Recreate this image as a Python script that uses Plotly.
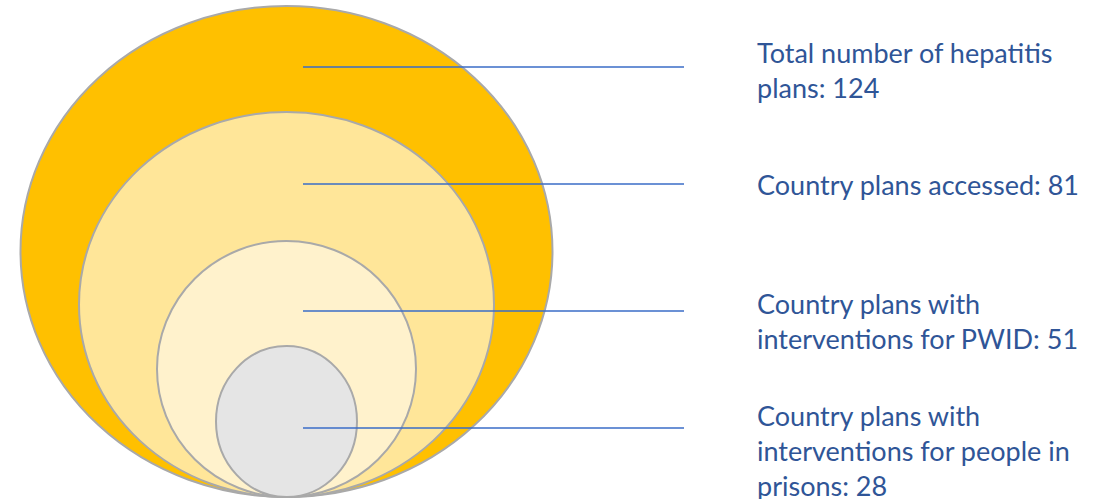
import plotly.graph_objects as go

# Nested plan counts, outermost first
labels = [
    "Total number of hepatitis<br>plans: 124",
    "Country plans accessed: 81",
    "Country plans with<br>interventions for PWID: 51",
    "Country plans with<br>interventions for people in<br>prisons: 28",
]
counts = [124, 81, 51, 28]

# Ellipse geometry in pixel space (centre x, half-width, top y); all share the bottom edge
W, H = 1104, 499
BOTTOM = 497
CX = 286.5
half_widths = [266, 207.5, 129.5, 70.5]
tops = [6, 112, 241, 346]
fills = ["#FFC000", "#FFE699", "#FFF2CC", "#E5E5E5"]

# Leader lines and label anchors
leader_y = [67, 184, 311, 428]
leader_x0, leader_x1 = 303, 684
label_x = 755
label_mid_y = [70, 184, 321, 450]

fig = go.Figure()
shapes = []
for hw, top, col in zip(half_widths, tops, fills):
    shapes.append(dict(type="circle", xref="x", yref="y",
                       x0=CX - hw, x1=CX + hw, y0=top, y1=BOTTOM,
                       fillcolor=col, line=dict(color="#A9A9A9", width=2),
                       layer="below"))
for y in leader_y:
    shapes.append(dict(type="line", xref="x", yref="y",
                       x0=leader_x0, x1=leader_x1, y0=y, y1=y,
                       line=dict(color="#3A6CC7", width=1.4)))

annotations = []
for text, y, n in zip(labels, label_mid_y, counts):
    annotations.append(dict(x=label_x, y=y, xref="x", yref="y", text=text,
                            showarrow=False, xanchor="left", yanchor="middle",
                            align="left",
                            font=dict(family="Lato", size=27, color="#2F5597")))

# invisible anchor trace so the axes exist
fig.add_trace(go.Scatter(x=[0, W], y=[0, H], mode="markers",
                         marker=dict(opacity=0), hoverinfo="skip", showlegend=False))

fig.update_layout(
    width=W, height=H,
    margin=dict(l=0, r=0, t=0, b=0),
    paper_bgcolor="white", plot_bgcolor="white",
    shapes=shapes, annotations=annotations,
    xaxis=dict(range=[0, W], visible=False, fixedrange=True),
    yaxis=dict(range=[H, 0], visible=False, fixedrange=True),
    showlegend=False,
)

fig.write_html("out.html", config={"displayModeBar": False})
